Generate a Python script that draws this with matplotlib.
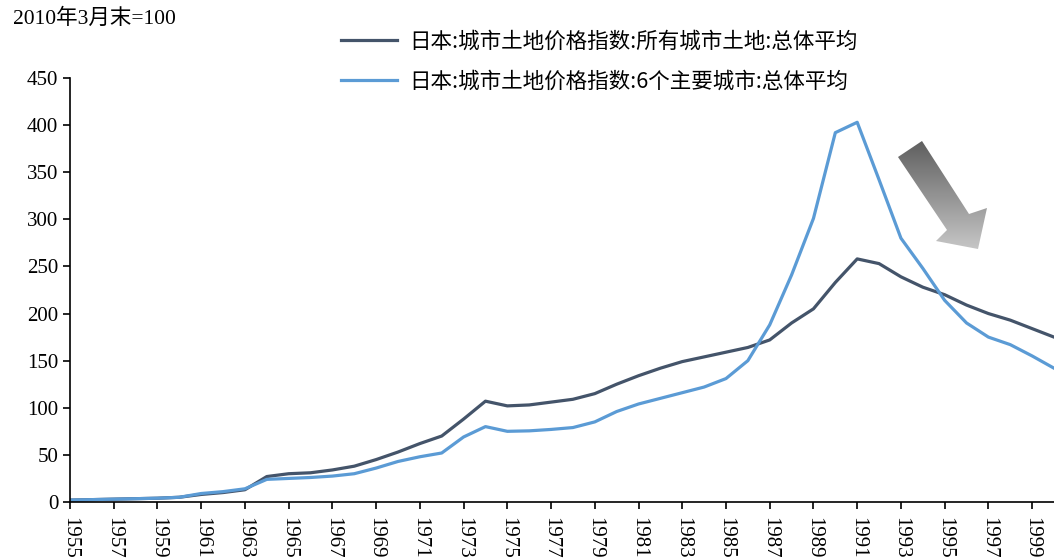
"""Japan urban land price index, 1955-2000 (end of March 2010 = 100)."""

import matplotlib

matplotlib.use("Agg")
import matplotlib.pyplot as plt
import numpy as np
from matplotlib.colors import LinearSegmentedColormap
from matplotlib.patches import Polygon

plt.rcParams["font.family"] = ["Liberation Serif", "Noto Sans CJK SC"]

years = list(range(1955, 2001))

# 所有城市土地:总体平均
all_cities = [
    2, 2.5, 3, 3.5, 4, 5, 8, 10, 13, 27,
    30, 31, 34, 38, 45, 53, 62, 70, 88, 107,
    102, 103, 106, 109, 115, 125, 134, 142, 149, 154,
    159, 164, 172, 190, 205, 233, 258, 253, 239, 228,
    220, 209, 200, 193, 184, 175,
]
# 6个主要城市:总体平均
six_cities = [
    2, 2.5, 3, 3.5, 4, 5, 9, 11, 14, 24,
    25, 26, 27.5, 30, 36, 43, 48, 52, 69, 80,
    75, 75.5, 77, 79, 85, 96, 104, 110, 116, 122,
    131, 150, 188, 241, 301, 392, 403, 342, 280, 248,
    214, 190, 175, 167, 155, 142,
]
series_names = [
    "日本:城市土地价格指数:所有城市土地:总体平均",
    "日本:城市土地价格指数:6个主要城市:总体平均",
]
series_colors = ["#44546A", "#5B9BD5"]
tick_years = list(range(1955, 2001, 2))

fig = plt.figure(figsize=(10.54, 5.6), dpi=100)
ax = fig.add_axes([0.0664, 0.1036, 0.9336, 0.7571])

for vals, name, color in zip([all_cities, six_cities], series_names, series_colors):
    ax.plot(years, vals, color=color, lw=2.3, label=name)

ax.set_xlim(1955, 2000)
ax.set_ylim(0, 450)
ax.set_yticks(range(0, 451, 50))
ax.set_xticks(tick_years)
ax.set_xticklabels([str(y) for y in tick_years], rotation=270, va="top", ha="center")
ax.tick_params(axis="both", labelsize=15, direction="out", length=5, width=1.2)
ax.tick_params(axis="x", pad=6)
for side in ("top", "right"):
    ax.spines[side].set_visible(False)
for side in ("left", "bottom"):
    ax.spines[side].set_linewidth(1.2)

fig.text(0.012, 0.967, "2010年3月末=100", fontsize=15.5, va="center", ha="left")

leg = fig.legend(
    loc="upper left", bbox_to_anchor=(0.305, 0.98), frameon=False,
    prop={"family": ["Noto Sans CJK SC"], "size": 15.5},
    handlelength=2.6, handletextpad=0.6, labelspacing=0.85,
)
for line in leg.get_lines():
    line.set_linewidth(2.3)

# gradient-filled arrow marking the post-bubble decline
arrow_pts = np.array([
    [898, 157], [922, 141], [969, 214], [987, 208],
    [978, 249], [936, 241], [947, 230],
], dtype=float)
arrow_pts[:, 1] = 560 - arrow_pts[:, 1]
arrow_fig = arrow_pts / np.array([1054, 560])
poly = Polygon(arrow_fig, closed=True, transform=fig.transFigure,
               facecolor="none", edgecolor="none")
fig.add_artist(poly)
grey_cmap = LinearSegmentedColormap.from_list("arrow_grey", ["#5f5f5f", "#c6c6c6"])
grad = np.linspace(0, 1, 256).reshape(-1, 1)
x0, y0 = arrow_fig.min(axis=0)
x1, y1 = arrow_fig.max(axis=0)
gax = fig.add_axes([x0, y0, x1 - x0, y1 - y0])
gax.set_axis_off()
img = gax.imshow(grad, cmap=grey_cmap, aspect="auto", origin="upper",
                 extent=[x0, x1, y0, y1], transform=fig.transFigure)
img.set_clip_path(poly)

fig.savefig("out.png", dpi=100)
